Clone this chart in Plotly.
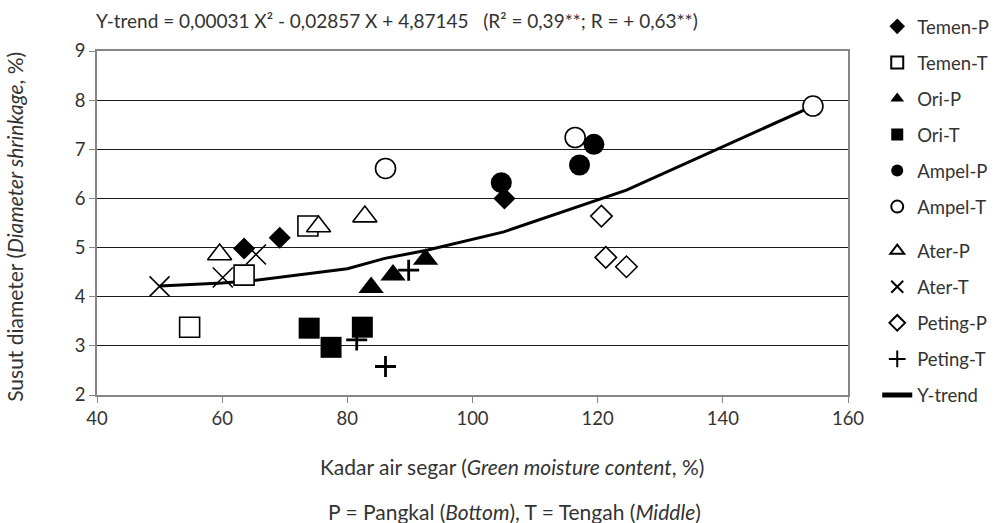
import plotly.graph_objects as go

# ---- data ----
temen_p_x = [63.5, 69.2, 105.1]
temen_p_y = [4.98, 5.20, 6.00]
temen_t_x = [54.8, 63.5, 73.7]
temen_t_y = [3.38, 4.44, 5.44]
ori_p_x = [83.8, 87.3, 92.5]
ori_p_y = [4.19, 4.44, 4.76]
ori_t_x = [73.9, 77.4, 82.4]
ori_t_y = [3.36, 2.97, 3.38]
ampel_p_x = [104.6, 117.1, 119.4]
ampel_p_y = [6.32, 6.68, 7.10]
ampel_t_x = [86.1, 116.4, 154.4]
ampel_t_y = [6.61, 7.24, 7.88]
ater_p_x = [59.6, 75.4, 82.8]
ater_p_y = [4.86, 5.43, 5.63]
ater_t_x = [50.0, 60.1, 65.4]
ater_t_y = [4.21, 4.39, 4.86]
peting_p_x = [120.6, 121.3, 124.6]
peting_p_y = [5.64, 4.80, 4.61]
peting_t_x = [81.5, 86.1, 89.8]
peting_t_y = [3.12, 2.58, 4.54]
trend_x = [50, 60, 65, 75, 80, 86, 92.5, 105, 124.6, 154.4]
trend_y = [4.22, 4.28, 4.33, 4.48, 4.57, 4.78, 4.94, 5.32, 6.17, 7.88]

x_ticks = [40, 60, 80, 100, 120, 140, 160]
y_ticks = [2, 3, 4, 5, 6, 7, 8, 9]

FONT = "Lato"
TXT = "#333333"
OPEN = dict(color="black", width=1.6)

series = [
    ("Temen-P", temen_p_x, temen_p_y, dict(symbol="diamond", size=17, color="black"), "legend"),
    ("Temen-T", temen_t_x, temen_t_y, dict(symbol="square", size=20, color="white", line=OPEN), "legend"),
    ("Ori-P", ori_p_x, ori_p_y, dict(symbol="triangle-up", size=22, color="black"), "legend"),
    ("Ori-T", ori_t_x, ori_t_y, dict(symbol="square", size=21, color="black"), "legend"),
    ("Ampel-P", ampel_p_x, ampel_p_y, dict(symbol="circle", size=21, color="black"), "legend"),
    ("Ampel-T", ampel_t_x, ampel_t_y, dict(symbol="circle", size=20, color="white", line=OPEN), "legend"),
    ("Ater-P", ater_p_x, ater_p_y, dict(symbol="triangle-up", size=21, color="white", line=OPEN), "legend2"),
    ("Ater-T", ater_t_x, ater_t_y, dict(symbol="x-thin", size=20, color="black", line=OPEN), "legend2"),
    ("Peting-P", peting_p_x, peting_p_y, dict(symbol="diamond", size=16.5, color="white", line=OPEN), "legend2"),
    ("Peting-T", peting_t_x, peting_t_y, dict(symbol="cross-thin", size=15, color="black", line=dict(color="black", width=2.8)), "legend2"),
]

fig = go.Figure()

fig.add_trace(go.Scatter(x=trend_x, y=trend_y, mode="lines", name="Y-trend",
                         line=dict(color="black", width=3), legendrank=2000,
                         legendgroup="trend", legend="legend2"))

for i, (name, xs, ys, mk, lg) in enumerate(series):
    fig.add_trace(go.Scatter(x=xs, y=ys, mode="markers", name=name, marker=mk,
                             legendrank=1000 + i, legendgroup=name, legend=lg))

leg_common = dict(xref="container", yref="container", xanchor="left", yanchor="top",
                  itemsizing="constant", tracegroupgap=9,
                  font=dict(family=FONT, size=18.5, color=TXT),
                  bgcolor="rgba(0,0,0,0)", itemwidth=30)

fig.update_layout(
    width=998, height=523,
    margin=dict(l=97, r=150, t=51, b=128, autoexpand=False),
    paper_bgcolor="white", plot_bgcolor="white",
    font=dict(family=FONT, size=18, color=TXT),
    showlegend=True,
    legend=dict(x=0.879, y=0.985, **leg_common),
    legend2=dict(x=0.879, y=0.556, **leg_common),
    xaxis=dict(range=[40, 160], tickvals=x_ticks, showgrid=False, zeroline=False,
               showline=True, linecolor="#868686", linewidth=1.5, mirror=True,
               ticks="outside", ticklen=6, tickcolor="#868686",
               tickfont=dict(family=FONT, size=18.5, color=TXT)),
    yaxis=dict(range=[2, 9], tickvals=y_ticks, showgrid=True, gridcolor="#1a1a1a", gridwidth=1,
               zeroline=False, showline=True, linecolor="#868686", linewidth=1.5, mirror=True,
               ticks="outside", ticklen=6, tickcolor="#868686",
               tickfont=dict(family=FONT, size=18.5, color=TXT)),
    annotations=[
        dict(text="Y-trend = 0,00031 X² - 0,02857 X + 4,87145   (R² = 0,39**; R = + 0,63**)",
             xref="paper", yref="paper", x=0.40, y=1.09, xanchor="center", yanchor="middle",
             showarrow=False, font=dict(family=FONT, size=19, color=TXT)),
        dict(text="Kadar air segar (<i>Green moisture content</i>, %)",
             xref="paper", yref="paper", x=0.553, y=-0.209, xanchor="center", yanchor="middle",
             showarrow=False, font=dict(family=FONT, size=21, color=TXT)),
        dict(text="P = Pangkal (<i>Bottom</i>), T = Tengah (<i>Middle</i>)",
             xref="paper", yref="paper", x=0.556, y=-0.340, xanchor="center", yanchor="middle",
             showarrow=False, font=dict(family=FONT, size=21, color=TXT)),
        dict(text="Susut diameter (<i>Diameter shrinkage</i>, %)",
             xref="paper", yref="paper", x=-0.110, y=0.49, xanchor="center", yanchor="middle",
             textangle=-90, showarrow=False, font=dict(family=FONT, size=21, color=TXT)),
    ],
)

fig.write_html("out.html")
